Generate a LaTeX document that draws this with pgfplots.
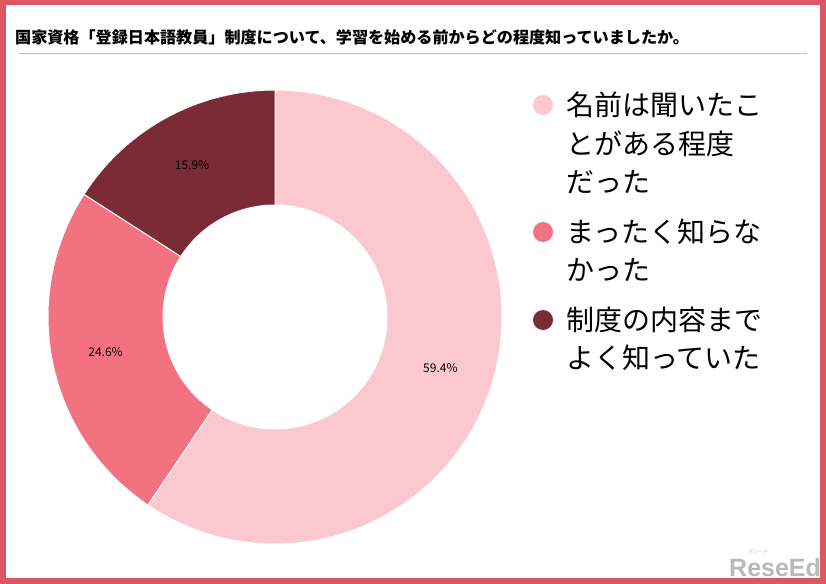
\documentclass[border=0pt]{standalone}
\usepackage{fontspec}
\setmainfont{Noto Sans CJK JP}
\newfontfamily\wmfont{Liberation Sans}
\usepackage{pgfplots}
\usepackage{pgfplotstable}
\pgfplotsset{compat=1.18}

\definecolor{framered}{HTML}{DC5762}
\definecolor{sA}{HTML}{FBC8CF}
\definecolor{sB}{HTML}{F27282}
\definecolor{sC}{HTML}{7A2B35}
\definecolor{rulegray}{HTML}{BFBFBF}

% share of answers, clockwise from 12 o'clock
\pgfplotstableread{
value
59.4
24.6
15.9
}\donut

% donut geometry, in px of the reference (1 unit = 1bp)
\def\cx{275}\def\cy{317}\def\ro{227}\def\ri{112}\def\rl{173}

\newcommand\slice[3]{%
  \fill[#3, draw=white, line width=1bp]
    (axis cs:{\cx+\ro*cos(#1)},{\cy-\ro*sin(#1)})
    arc[start angle=#1, end angle=#2, radius=\ro bp]
    -- (axis cs:{\cx+\ri*cos(#2)},{\cy-\ri*sin(#2)})
    arc[start angle=#2, end angle=#1, radius=\ri bp] -- cycle;}

\newcommand\leg{\fontsize{28bp}{30bp}\selectfont}
\newcommand\pct{\fontsize{12bp}{12bp}\selectfont}

\begin{document}
\begin{tikzpicture}
\pgfplotstablegetelem{0}{value}\of\donut \let\vA\pgfplotsretval
\pgfplotstablegetelem{1}{value}\of\donut \let\vB\pgfplotsretval
\pgfplotstablegetelem{2}{value}\of\donut \let\vC\pgfplotsretval
\pgfmathsetmacro\tot{\vA+\vB+\vC}
\pgfmathsetmacro\k{360/\tot}
\pgfmathsetmacro\aA{90}
\pgfmathsetmacro\aB{\aA-\k*\vA}
\pgfmathsetmacro\aC{\aB-\k*\vB}
\pgfmathsetmacro\aD{\aC-\k*\vC}
\pgfmathsetmacro\mA{(\aA+\aB)/2}
\pgfmathsetmacro\mB{(\aB+\aC)/2}
\pgfmathsetmacro\mC{(\aC+\aD)/2}
\begin{axis}[
    x=1bp, y=1bp,
    xmin=0, xmax=826, ymin=0, ymax=584,
    y dir=reverse,
    hide axis, clip=false,
  ]
  % frame
  \fill[framered] (axis cs:0,0) rectangle (axis cs:826,584);
  \fill[white] (axis cs:6,5) rectangle (axis cs:820,578);

  % title
  \node[anchor=west, inner sep=0, font=\bfseries\fontsize{16.1bp}{17bp}\selectfont]
    at (axis cs:15,37) {国家資格「登録日本語教員」制度について、学習を始める前からどの程度知っていましたか。};
  \draw[rulegray, line width=1bp] (axis cs:19,54) -- (axis cs:807,54);

  % donut
  \slice{\aA}{\aB}{sA}
  \slice{\aB}{\aC}{sB}
  \slice{\aC}{\aD}{sC}

  \node[font=\pct] at (axis cs:{\cx+\rl*cos(\mA)},{\cy-\rl*sin(\mA)}) {\vA\%};
  \node[font=\pct] at (axis cs:{\cx+\rl*cos(\mB)},{\cy-\rl*sin(\mB)}) {\vB\%};
  \node[font=\pct] at (axis cs:{\cx+\rl*cos(\mC)},{\cy-\rl*sin(\mC)}) {\vC\%};

  % legend
  \fill[sA] (axis cs:543,105) circle[radius=10bp];
  \node[anchor=west, inner sep=0, font=\leg] at (axis cs:566,105) {名前は聞いたこ};
  \node[anchor=west, inner sep=0, font=\leg] at (axis cs:566,143.5) {とがある程度};
  \node[anchor=west, inner sep=0, font=\leg] at (axis cs:566,182) {だった};
  \fill[sB] (axis cs:543,232) circle[radius=10bp];
  \node[anchor=west, inner sep=0, font=\leg] at (axis cs:566,232) {まったく知らな};
  \node[anchor=west, inner sep=0, font=\leg] at (axis cs:566,270) {かった};
  \fill[sC] (axis cs:543,320) circle[radius=10bp];
  \node[anchor=west, inner sep=0, font=\leg] at (axis cs:566,320) {制度の内容まで};
  \node[anchor=west, inner sep=0, font=\leg] at (axis cs:566,358) {よく知っていた};

  % watermark
  \node[anchor=base west, inner sep=0, text=gray!55,
        font=\wmfont\bfseries\fontsize{25bp}{25bp}\selectfont] at (axis cs:729,576) {ReseEd};
  \node[inner sep=0, text=gray!55, font=\fontsize{5bp}{5bp}\selectfont] at (axis cs:758,552) {リシード};
\end{axis}
\end{tikzpicture}
\end{document}
